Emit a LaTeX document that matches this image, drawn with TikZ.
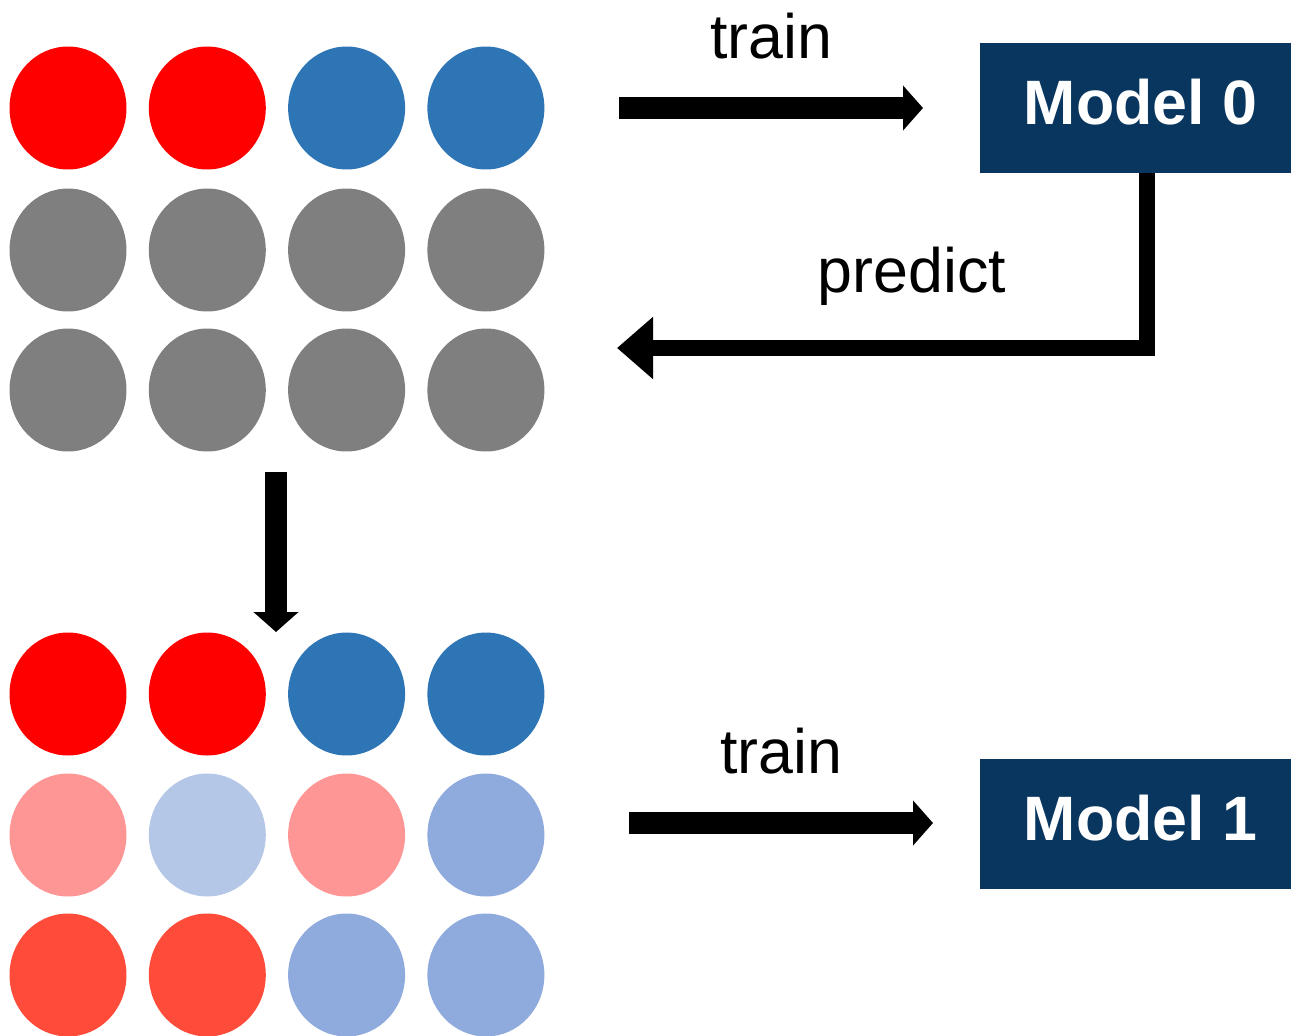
\documentclass[tikz,border=0pt]{standalone}
\usepackage{fontspec}
\setmainfont{Liberation Sans}
\usetikzlibrary{arrows.meta, positioning, calc, shapes.geometric}

\definecolor{dotred}{RGB}{255, 0, 0}
\definecolor{dotblue}{RGB}{46, 117, 182}
\definecolor{dotgray}{RGB}{127, 127, 127}
\definecolor{dotpink}{RGB}{255, 150, 150}
\definecolor{dotsky}{RGB}{180, 199, 231}
\definecolor{dotmid}{RGB}{143, 170, 220}
\definecolor{dotcoral}{RGB}{255, 75, 58}
\definecolor{modelnavy}{RGB}{9, 54, 95}

\begin{document}
\begin{tikzpicture}[x=0.02cm, y=-0.02cm,
    dot/.style={ellipse, minimum width=2.34cm, minimum height=2.46cm, inner sep=0pt},
    model/.style={fill=modelnavy, text=white, minimum width=6.22cm, minimum height=2.6cm, inner sep=0pt,
      text depth=0.24cm, font=\fontsize{35.7pt}{40pt}\selectfont\bfseries},
    lbl/.style={font=\fontsize{35.7pt}{40pt}\selectfont, anchor=base, inner sep=0pt},
    fat/.style={line width=12pt, -{Triangle[length=0.4cm, width=0.88cm]}}]
  \useasboundingbox (0,0) rectangle (1291,1035);

  % labelled data before training
  \foreach \cl [count=\i] in {dotred, dotred, dotblue, dotblue}
    \node[dot, fill=\cl] (a1-\i) at ({68+139.3*(\i-1)}, 108) {};
  \foreach \i in {1,...,4} {
    \node[dot, fill=dotgray] (a2-\i) at ({68+139.3*(\i-1)}, 250) {};
    \node[dot, fill=dotgray] (a3-\i) at ({68+139.3*(\i-1)}, 390) {};
  }

  % data with pseudo labels
  \foreach \cl [count=\i] in {dotred, dotred, dotblue, dotblue}
    \node[dot, fill=\cl] (b1-\i) at ({68+139.3*(\i-1)}, 694) {};
  \foreach \cl [count=\i] in {dotpink, dotsky, dotpink, dotmid}
    \node[dot, fill=\cl] (b2-\i) at ({68+139.3*(\i-1)}, 835) {};
  \foreach \cl [count=\i] in {dotcoral, dotcoral, dotmid, dotmid}
    \node[dot, fill=\cl] (b3-\i) at ({68+139.3*(\i-1)}, 975) {};

  % models
  \node[model] (m0) at (1135.5, 108) {\hspace{0.2cm}Model 0};
  \node[model] (m1) at (1135.5, 824) {\hspace{0.2cm}Model 1};

  % arrows
  \coordinate (t0s) at (619, 108);
  \coordinate (t0e) at (923, 108);
  \draw[fat] (t0s) -- (t0e);
  \node[lbl] (train0) at (771, 58) {train};

  \coordinate (pe) at (617, 348);
  \draw[line width=9.4pt, line join=miter, -{Triangle[length=0.72cm, width=1.2cm]}]
    ($(m0.south)+(11.5,0)$) |- (pe);
  \node[lbl] (pred) at (912, 292) {predict};

  \coordinate (ds) at (276, 472);
  \coordinate (de) at (276, 632);
  \draw[fat] (ds) -- (de);

  \coordinate (t1s) at (629, 823);
  \coordinate (t1e) at (933, 823);
  \draw[fat] (t1s) -- (t1e);
  \node[lbl] (train1) at (781, 773) {train};
\end{tikzpicture}
\end{document}
